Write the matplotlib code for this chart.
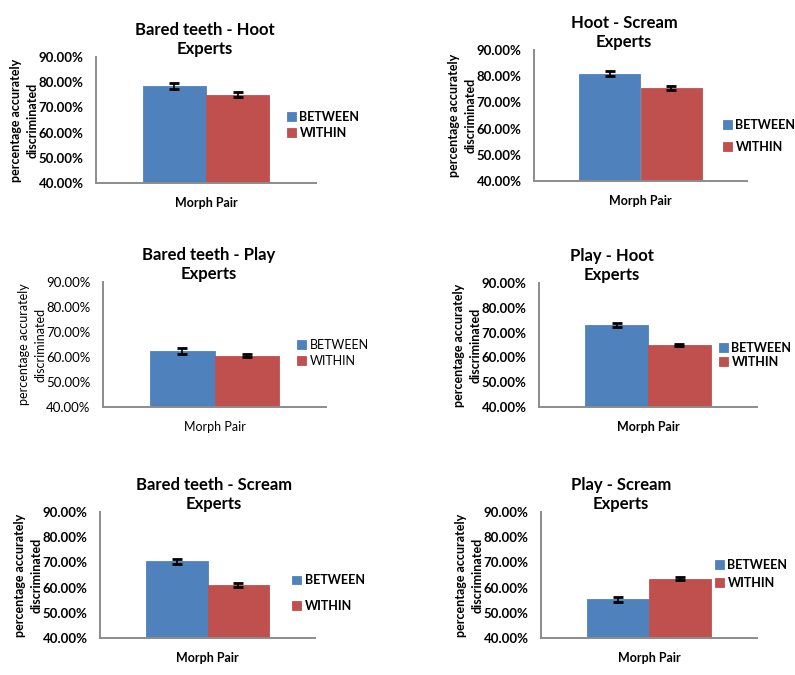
import matplotlib as mpl
mpl.use('Agg')
import matplotlib.pyplot as plt

plt.rcParams['font.family'] = ['Lato', 'DejaVu Sans']

titles = ['Bared teeth - Hoot', 'Hoot - Scream', 'Bared teeth - Play',
          'Play - Hoot', 'Bared teeth - Scream', 'Play - Scream']
between = [78.5, 81.0, 62.4, 73.0, 70.5, 55.3]
within = [75.1, 75.5, 60.6, 65.0, 60.9, 63.6]
between_err = [1.1, 1.1, 1.2, 0.9, 1.0, 0.9]
within_err = [1.0, 0.8, 0.7, 0.6, 0.8, 0.7]
series = ['BETWEEN', 'WITHIN']
yticks = [40, 50, 60, 70, 80, 90]

# layout in pixels: axes left, right, top(90%), bottom(40%)
W, H = 795, 675
boxes = [(96, 316, 57, 183), (534, 747, 50, 181), (103, 326, 282, 407),
         (539, 757, 283, 407), (100, 315, 512, 638), (541, 757, 512, 638)]
title_x = [205, 624, 209, 612, 214, 621]
# legend: patch left x, center y, label spacing
leg_pos = [(287, 125, 0.3), (723, 136, 0.8), (297, 353, 0.3),
           (719, 355, 0.15), (292, 593, 1.05), (715, 574, 0.45)]
bold = [True, True, False, True, True, True]

blue = '#4F81BD'
red = '#C0504D'
axis_gray = '#8c8c8c'

fig = plt.figure(figsize=(W / 100, H / 100), dpi=100)

for i in range(6):
    l, r, t, b = boxes[i]
    ax = fig.add_axes([l / W, (H - b) / H, (r - l) / W, (b - t) / H])
    w = 'bold' if bold[i] else 'normal'

    wid = 0.288
    ax.bar(0.5 - wid / 2, between[i], wid, bottom=0, color=blue, label=series[0],
           edgecolor=blue, linewidth=0.6, yerr=between_err[i],
           error_kw=dict(ecolor='black', capsize=3.5, capthick=2, elinewidth=1.2))
    ax.bar(0.5 + wid / 2, within[i], wid, bottom=0, color=red, label=series[1],
           edgecolor=red, linewidth=0.6, yerr=within_err[i],
           error_kw=dict(ecolor='black', capsize=3.5, capthick=2, elinewidth=1.2))

    ax.set_xlim(0, 1)
    ax.set_ylim(40, 90)
    ax.set_yticks(yticks)
    ax.set_yticklabels(['%.2f%%' % v for v in yticks], fontsize=9.5, fontweight=w)
    ax.tick_params(axis='y', length=0, pad=9)
    ax.set_xticks([])

    for s in ['top', 'right']:
        ax.spines[s].set_visible(False)
    for s in ['left', 'bottom']:
        ax.spines[s].set_color(axis_gray)
        ax.spines[s].set_linewidth(1.4)

    ax.set_title(titles[i] + '\nExperts', x=(title_x[i] - l) / (r - l), pad=2,
                 fontsize=12, fontweight='bold', linespacing=1.2)
    ax.set_ylabel('percentage accurately\ndiscriminated', fontsize=9,
                  fontweight=w, linespacing=1.45, labelpad=0)
    ax.set_xlabel('Morph Pair', fontsize=9, fontweight=w, labelpad=10)

    lx, ly, ls = leg_pos[i]
    ax.legend(loc='center left', bbox_to_anchor=(lx / W, (H - ly) / H),
              bbox_transform=fig.transFigure, frameon=False, borderpad=0,
              borderaxespad=0, handlelength=0.7, handleheight=0.7,
              handletextpad=0.3, labelspacing=ls,
              prop={'size': 9, 'weight': w})

fig.savefig('out.png', dpi=100)
